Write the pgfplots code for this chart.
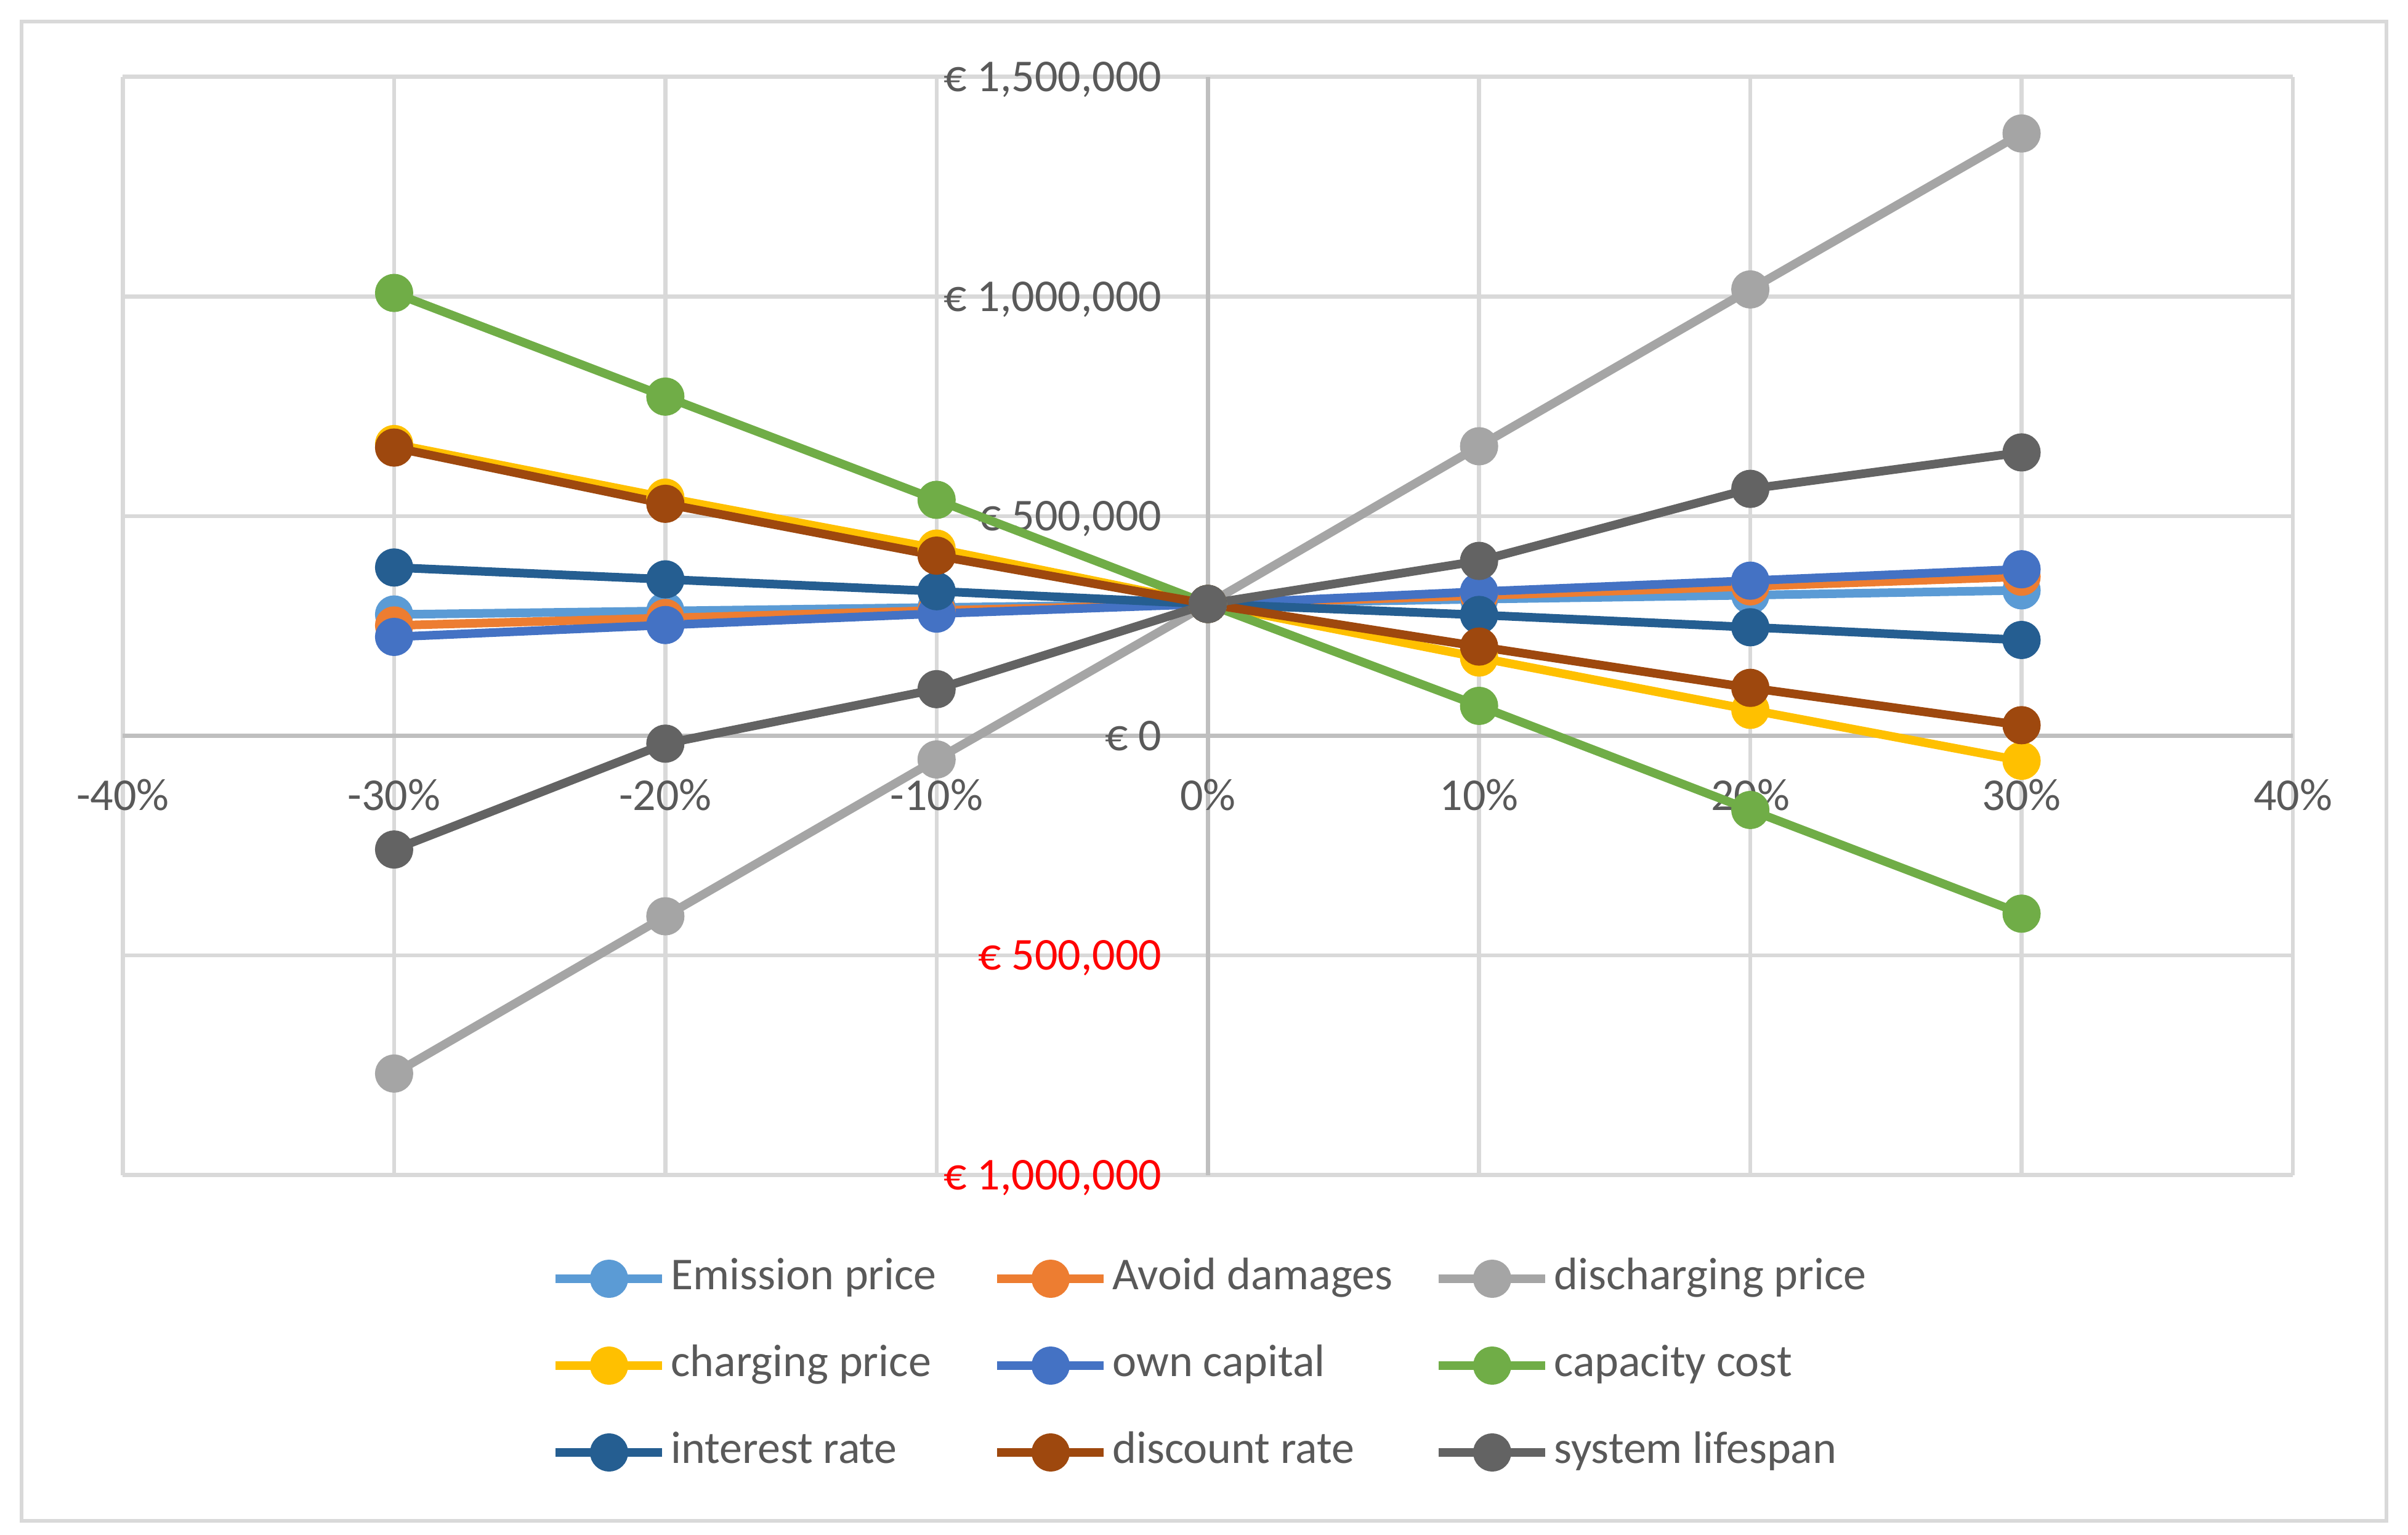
\documentclass[border=0pt]{standalone}
\usepackage{fontspec}
\setmainfont{Carlito}
\usepackage{pgfplots}
\pgfplotsset{compat=1.18}
\definecolor{cEm}{HTML}{5B9BD5}
\definecolor{cAv}{HTML}{ED7D31}
\definecolor{cDi}{HTML}{A5A5A5}
\definecolor{cCh}{HTML}{FFC000}
\definecolor{cOw}{HTML}{4472C4}
\definecolor{cCa}{HTML}{70AD47}
\definecolor{cIn}{HTML}{255E91}
\definecolor{cDr}{HTML}{9E480E}
\definecolor{cSy}{HTML}{636363}
\definecolor{txt}{HTML}{595959}
\definecolor{gridc}{HTML}{D9D9D9}
\definecolor{axc}{HTML}{BFBFBF}
\newcommand\lentry[1]{\makebox[53.0pt][l]{\hspace{0.7pt}#1}}
\pgfplotsset{ser/.style={color=#1, line width=1.4pt, mark=*, mark size=2.4pt, mark options={solid, fill=#1, draw=none}}}
\begin{document}
\fontsize{7.4}{8.9}\selectfont
\begin{tikzpicture}
\path[use as bounding box] (0,0) rectangle (391pt,249.1pt);
\draw[color=gridc, line width=0.65pt] (3.5pt,2.2pt) rectangle (387.5pt,245.6pt);
\begin{axis}[
  at={(19.95pt,58.34pt)}, anchor=south west,
  width=352.35pt, height=178.29pt, scale only axis,
  xmin=-0.4, xmax=0.4, ymin=-1000000, ymax=1500000,
  enlargelimits=false,
  axis x line=center, axis y line=center,
  axis line style={-, draw=axc, line width=0.7pt},
  xtick={-0.4,-0.3,-0.2,-0.1,0,0.1,0.2,0.3,0.4},
  xticklabels={-40\%,-30\%,-20\%,-10\%,0\%,10\%,20\%,30\%,40\%},
  ytick={-1000000,-500000,0,500000,1000000,1500000},
  yticklabels={{\color{red}€ 1,000,000},{\color{red}€ 500,000},{€ 0},{€ 500,000},{€ 1,000,000},{€ 1,500,000}},
  scaled x ticks=false, scaled y ticks=false,
  hide obscured x ticks=false, hide obscured y ticks=false,
  major tick length=0pt, tick style={draw=none},
  grid=major, major grid style={draw=gridc, line width=0.65pt},
  xticklabel style={anchor=north, inner sep=0pt, text height=4.75pt, text depth=0pt, yshift=-7.2pt, text=txt, font=\fontsize{7.4}{8.9}\selectfont},
  yticklabel style={anchor=east, inner sep=0pt, text height=4.75pt, text depth=0pt, xshift=-7.3pt, text=txt, font=\fontsize{7.4}{8.9}\selectfont},
  legend columns=3,
  legend cell align=left,
  legend style={at={(0.19753,-0.07594)}, anchor=north west, draw=none, fill=none, inner sep=0pt, outer sep=0pt, column sep=0pt, row sep=7.5pt,
    nodes={inner sep=0pt, text height=5pt, text depth=1.6pt, text=txt, font=\fontsize{7.4}{8.9}\selectfont}},
  legend image code/.code={\draw[mark repeat=2, mark phase=2, #1] plot coordinates {(0pt,0pt) (8.65pt,0pt) (17.3pt,0pt)};},
]
\addplot[ser=cEm] coordinates {(-0.3,276000) (-0.2,284000) (-0.1,292000) (0,300000) (0.1,311000) (0.2,320000) (0.3,331000)};
\addlegendentry{\lentry{Emission price}}
\addplot[ser=cAv] coordinates {(-0.3,251000) (-0.2,268000) (-0.1,285000) (0,300000) (0.1,319000) (0.2,340000) (0.3,362000)};
\addlegendentry{\lentry{Avoid damages}}
\addplot[ser=cDi] coordinates {(-0.3,-769000) (-0.2,-411000) (-0.1,-54000) (0,300000) (0.1,659000) (0.2,1016000) (0.3,1371000)};
\addlegendentry{\lentry{discharging price}}
\addplot[ser=cCh] coordinates {(-0.3,664000) (-0.2,542000) (-0.1,426000) (0,300000) (0.1,178000) (0.2,59000) (0.3,-57000)};
\addlegendentry{\lentry{charging price}}
\addplot[ser=cOw] coordinates {(-0.3,225000) (-0.2,252000) (-0.1,278000) (0,300000) (0.1,328000) (0.2,353000) (0.3,379000)};
\addlegendentry{\lentry{own capital}}
\addplot[ser=cCa] coordinates {(-0.3,1008000) (-0.2,772000) (-0.1,537000) (0,300000) (0.1,68000) (0.2,-169000) (0.3,-405000)};
\addlegendentry{\lentry{capacity cost}}
\addplot[ser=cIn] coordinates {(-0.3,383000) (-0.2,356000) (-0.1,329000) (0,300000) (0.1,275000) (0.2,247000) (0.3,218000)};
\addlegendentry{\lentry{interest rate}}
\addplot[ser=cDr] coordinates {(-0.3,656000) (-0.2,528000) (-0.1,410000) (0,300000) (0.1,203000) (0.2,109000) (0.3,24000)};
\addlegendentry{\lentry{discount rate}}
\addplot[ser=cSy] coordinates {(-0.3,-259000) (-0.2,-18000) (-0.1,106000) (0,300000) (0.1,398000) (0.2,562000) (0.3,645000)};
\addlegendentry{\lentry{system lifespan}}
\end{axis}
\end{tikzpicture}
\end{document}
